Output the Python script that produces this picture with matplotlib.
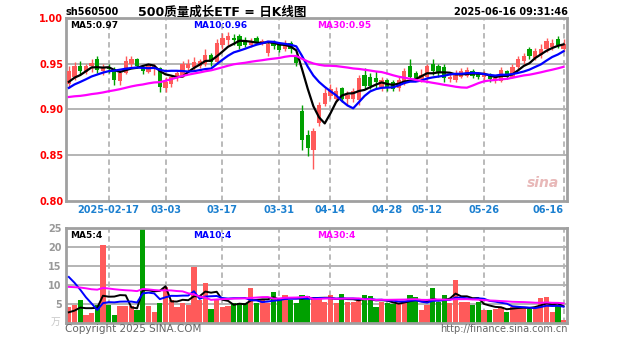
import matplotlib
matplotlib.use("Agg")
import matplotlib.pyplot as plt
import pandas as pd

plt.rcParams['font.family'] = ['DejaVu Sans', 'Noto Sans CJK SC']

# ---------------- data ----------------
dates = [
    '2025-02-06', '2025-02-07', '2025-02-10', '2025-02-11', '2025-02-12', '2025-02-13', '2025-02-14',
    '2025-02-17', '2025-02-18', '2025-02-19', '2025-02-20', '2025-02-21', '2025-02-24', '2025-02-25',
    '2025-02-26', '2025-02-27', '2025-02-28', '2025-03-03', '2025-03-04', '2025-03-05', '2025-03-06',
    '2025-03-07', '2025-03-10', '2025-03-11', '2025-03-12', '2025-03-13', '2025-03-14', '2025-03-17',
    '2025-03-18', '2025-03-19', '2025-03-20', '2025-03-21', '2025-03-24', '2025-03-25', '2025-03-26',
    '2025-03-27', '2025-03-28', '2025-03-31', '2025-04-01', '2025-04-02', '2025-04-03', '2025-04-07',
    '2025-04-08', '2025-04-09', '2025-04-10', '2025-04-11', '2025-04-14', '2025-04-15', '2025-04-16',
    '2025-04-17', '2025-04-18', '2025-04-21', '2025-04-22', '2025-04-23', '2025-04-24', '2025-04-25',
    '2025-04-28', '2025-04-29', '2025-04-30', '2025-05-06', '2025-05-07', '2025-05-08', '2025-05-09',
    '2025-05-12', '2025-05-13', '2025-05-14', '2025-05-15', '2025-05-16', '2025-05-19', '2025-05-20',
    '2025-05-21', '2025-05-22', '2025-05-23', '2025-05-26', '2025-05-27', '2025-05-28', '2025-05-29',
    '2025-05-30', '2025-06-03', '2025-06-04', '2025-06-05', '2025-06-06', '2025-06-09', '2025-06-10',
    '2025-06-11', '2025-06-12', '2025-06-13', '2025-06-16']

opens = [0.928, 0.936, 0.948, 0.941, 0.947, 0.955, 0.942, 0.946, 0.944, 0.931,
         0.940, 0.950, 0.955, 0.946, 0.941, 0.944, 0.945, 0.924, 0.928, 0.934,
         0.938, 0.945, 0.946, 0.948, 0.950, 0.960, 0.952, 0.970, 0.976, 0.978,
         0.980, 0.976, 0.970, 0.978, 0.972, 0.962, 0.973, 0.971, 0.966, 0.973,
         0.958, 0.898, 0.872, 0.856, 0.885, 0.906, 0.915, 0.912, 0.923, 0.912,
         0.912, 0.910, 0.938, 0.935, 0.934, 0.925, 0.932, 0.930, 0.923, 0.930,
         0.948, 0.940, 0.933, 0.935, 0.950, 0.947, 0.946, 0.933, 0.932, 0.936,
         0.937, 0.942, 0.940, 0.936, 0.939, 0.932, 0.931, 0.942, 0.936, 0.946,
         0.953, 0.966, 0.956, 0.960, 0.966, 0.968, 0.977, 0.966]
highs = [0.947, 0.952, 0.953, 0.950, 0.955, 0.958, 0.950, 0.950, 0.946, 0.943,
         0.958, 0.958, 0.956, 0.947, 0.950, 0.950, 0.946, 0.935, 0.938, 0.942,
         0.953, 0.955, 0.957, 0.955, 0.966, 0.962, 0.977, 0.984, 0.985, 0.982,
         0.982, 0.979, 0.978, 0.980, 0.977, 0.975, 0.976, 0.973, 0.976, 0.975,
         0.960, 0.905, 0.878, 0.880, 0.908, 0.924, 0.928, 0.925, 0.925, 0.920,
         0.924, 0.938, 0.945, 0.940, 0.942, 0.935, 0.933, 0.932, 0.935, 0.945,
         0.955, 0.942, 0.944, 0.950, 0.955, 0.950, 0.950, 0.940, 0.943, 0.945,
         0.946, 0.944, 0.941, 0.942, 0.940, 0.937, 0.946, 0.943, 0.950, 0.958,
         0.962, 0.968, 0.967, 0.972, 0.978, 0.977, 0.980, 0.977]
lows = [0.924, 0.932, 0.938, 0.939, 0.941, 0.940, 0.938, 0.940, 0.927, 0.927,
        0.939, 0.945, 0.945, 0.939, 0.940, 0.938, 0.919, 0.919, 0.925, 0.931,
        0.936, 0.942, 0.942, 0.945, 0.947, 0.948, 0.950, 0.966, 0.970, 0.970,
        0.966, 0.968, 0.968, 0.972, 0.970, 0.958, 0.966, 0.963, 0.964, 0.962,
        0.947, 0.856, 0.849, 0.835, 0.882, 0.904, 0.912, 0.908, 0.908, 0.905,
        0.908, 0.905, 0.922, 0.922, 0.924, 0.920, 0.920, 0.920, 0.920, 0.927,
        0.933, 0.931, 0.930, 0.932, 0.938, 0.935, 0.930, 0.930, 0.930, 0.934,
        0.935, 0.934, 0.933, 0.932, 0.930, 0.929, 0.930, 0.933, 0.934, 0.944,
        0.950, 0.955, 0.954, 0.956, 0.963, 0.965, 0.967, 0.964]
closes = [0.942, 0.948, 0.942, 0.947, 0.951, 0.943, 0.946, 0.944, 0.932, 0.940,
          0.953, 0.955, 0.948, 0.942, 0.948, 0.947, 0.925, 0.930, 0.935, 0.940,
          0.950, 0.950, 0.952, 0.953, 0.960, 0.952, 0.973, 0.978, 0.980, 0.976,
          0.969, 0.971, 0.975, 0.974, 0.975, 0.972, 0.969, 0.965, 0.972, 0.966,
          0.951, 0.867, 0.858, 0.876, 0.905, 0.918, 0.922, 0.920, 0.911, 0.916,
          0.920, 0.934, 0.926, 0.926, 0.930, 0.932, 0.925, 0.922, 0.932, 0.942,
          0.936, 0.934, 0.938, 0.948, 0.942, 0.941, 0.934, 0.936, 0.939, 0.942,
          0.943, 0.937, 0.935, 0.938, 0.933, 0.934, 0.943, 0.936, 0.946, 0.955,
          0.958, 0.958, 0.964, 0.966, 0.975, 0.973, 0.970, 0.972]
volumes = [4.2, 4.7, 6.0, 2.0, 2.6, 4.8, 20.5, 4.7, 2.2, 4.5,
           4.5, 4.6, 3.5, 26.0, 4.5, 3.0, 5.3, 9.6, 6.0, 4.3,
           5.3, 4.8, 14.8, 6.0, 10.5, 3.8, 6.0, 4.3, 4.5, 5.3,
           5.3, 5.3, 9.2, 5.3, 6.0, 5.3, 8.1, 6.0, 7.3, 6.0,
           5.3, 7.3, 7.0, 6.9, 6.5, 5.5, 7.3, 5.3, 7.7, 5.6,
           5.4, 5.8, 7.3, 7.0, 4.3, 5.6, 5.3, 5.0, 5.3, 5.8,
           7.3, 6.9, 3.5, 4.7, 9.2, 5.6, 7.3, 5.3, 11.3, 5.6,
           5.6, 4.8, 5.6, 3.5, 3.5, 3.8, 4.3, 3.0, 4.3, 4.3,
           4.3, 3.8, 4.3, 6.5, 6.9, 3.0, 4.8, 0.8]

# earlier sessions (before the visible window), only needed to warm up the moving averages
pre_closes = [0.925, 0.928, 0.922, 0.918, 0.920, 0.915, 0.905, 0.900, 0.903, 0.908,
              0.910, 0.912, 0.915, 0.910, 0.918, 0.915, 0.885, 0.882, 0.888, 0.895,
              0.910, 0.915, 0.918, 0.920, 0.922, 0.925, 0.928, 0.926, 0.930]
pre_volumes = [7, 9, 8, 10, 8, 7, 9, 8, 9, 8, 7, 8, 9, 8, 8, 9, 8, 7, 9, 8,
               20, 24, 22, 19, 22, 2.5, 2.0, 2.8, 2.6]

tick_dates = ['2025-02-17', '2025-03-03', '2025-03-17', '2025-03-31', '2025-04-14',
              '2025-04-28', '2025-05-12', '2025-05-26', '2025-06-16']
tick_labels = ['2025-02-17', '03-03', '03-17', '03-31', '04-14', '04-28', '05-12', '05-26', '06-16']
price_ticks = [0.80, 0.85, 0.90, 0.95, 1.00]
price_grid = [0.85, 0.90, 0.95]
vol_ticks = [5, 10, 15, 20, 25]
vol_grid = [5, 10, 15, 20]

title_code = 'sh560500'
title_main = '500质量成长ETF = 日K线图'
timestamp = '2025-06-16 09:31:46'
price_ma_labels = ['MA5:0.97', 'MA10:0.96', 'MA30:0.95']
vol_ma_labels = ['MA5:4', 'MA10:4', 'MA30:4']
unit_label = '万'

# ---------------- style ----------------
W, H = 627, 342
RED = '#FF5A5A'
GREEN = '#00A000'
MA_COLORS = ['black', '#0000FF', '#FF00FF']
FRAME = '#A0A0A0'
GRID = '#B4B4B4'
DATE_BLUE = '#1C80D0'

fig = plt.figure(figsize=(W / 100, H / 100), dpi=100)
fig.patch.set_facecolor('white')


def fx(px):
    return px / W


def fy(py):
    return 1 - py / H


ax1 = fig.add_axes([fx(66), fy(201), (567 - 66) / W, (201 - 18) / H])
ax2 = fig.add_axes([fx(66), fy(323), (567 - 66) / W, (323 - 228) / H])

n = len(dates)
xs = list(range(n))
pos = {d: i for i, d in enumerate(dates)}
tick_idx = [pos[d] for d in tick_dates]

full_c = pd.Series(pre_closes + closes)
full_v = pd.Series(pre_volumes + volumes)
npre = len(pre_closes)
ma_windows = [5, 10, 30]
price_mas = [full_c.rolling(w).mean().iloc[npre:].values for w in ma_windows]
vol_mas = [full_v.rolling(w).mean().iloc[npre:].values for w in ma_windows]

# ---------------- price panel ----------------
ax = ax1
for g in price_grid:
    ax.axhline(g, color=GRID, lw=1.4, zorder=1)
for t in tick_idx:
    ax.axvline(t, color=GRID, lw=1.3, ls=(0, (3, 2)), zorder=1)

cols = [RED if c >= o else GREEN for o, c in zip(opens, closes)]
ax.vlines(xs, lows, highs, colors=cols, lw=1.0, zorder=2)
bottoms = [min(o, c) for o, c in zip(opens, closes)]
heights = [max(abs(c - o), 0.0008) for o, c in zip(opens, closes)]
ax.bar(xs, heights, bottom=bottoms, width=0.75, color=cols, linewidth=0, zorder=3)

for m, col in zip(price_mas, MA_COLORS):
    ax.plot(xs, m, color=col, lw=1.6, zorder=4)

ax.set_xlim(-0.5, 87.6)
ax.set_ylim(0.80, 1.00)
ax.set_yticks(price_ticks)
ax.set_yticklabels(['%.2f' % v for v in price_ticks])
ax.tick_params(axis='y', colors='red', length=0, labelsize=7, pad=2)
for lab in ax.get_yticklabels():
    lab.set_fontweight('bold')
ax.set_xticks(tick_idx)
ax.set_xticklabels(tick_labels)
ax.tick_params(axis='x', colors=DATE_BLUE, length=0, labelsize=7, pad=3)
xlabs = ax.get_xticklabels()
for lab in xlabs:
    lab.set_fontweight('bold')
xlabs[-1].set_horizontalalignment('right')
for s in ax.spines.values():
    s.set_color(FRAME)
    s.set_linewidth(2)

# sina watermark
ax.text(0.985, 0.06, 'sina', transform=ax.transAxes, ha='right', va='bottom',
        fontsize=10, fontweight='bold', fontstyle='italic', color='#E8B8B8', zorder=1)

# ---------------- volume panel ----------------
ax = ax2
for g in vol_grid:
    ax.axhline(g, color=GRID, lw=1.4, zorder=1)
for t in tick_idx:
    ax.axvline(t, color=GRID, lw=1.3, ls=(0, (3, 2)), zorder=1)
ax.bar(xs, volumes, width=0.92, color=cols, linewidth=0, zorder=2)
for m, col in zip(vol_mas, MA_COLORS):
    ax.plot(xs, m, color=col, lw=1.4, zorder=4)
ax.set_xlim(-0.5, 87.6)
ax.set_ylim(0, 25)
ax.set_yticks(vol_ticks)
ax.set_yticklabels([str(v) for v in vol_ticks])
ax.tick_params(axis='y', colors='#999999', length=0, labelsize=7, pad=3)
for lab in ax.get_yticklabels():
    lab.set_fontweight('bold')
ax.set_xticks([])
for s in ax.spines.values():
    s.set_color(FRAME)
    s.set_linewidth(2)

# ---------------- texts ----------------
fig.text(fx(66), fy(12), title_code, ha='left', va='center', fontsize=7, fontweight='bold', color='black')
fig.text(fx(222), fy(12), title_main, ha='center', va='center', fontsize=9, fontweight='bold', color='black')
fig.text(fx(568), fy(12), timestamp, ha='right', va='center', fontsize=7, fontweight='bold', color='black')

ma_x = [70, 193, 317]
for x, s, col in zip(ma_x, price_ma_labels, MA_COLORS):
    fig.text(fx(x), fy(25), s, ha='left', va='center', fontsize=6.5, fontweight='bold', color=col)
for x, s, col in zip(ma_x, vol_ma_labels, MA_COLORS):
    fig.text(fx(x), fy(236), s, ha='left', va='center', fontsize=6.5, fontweight='bold', color=col)

fig.text(fx(56), fy(322), unit_label, ha='center', va='center', fontsize=7, color='#C8C8C8')
fig.text(fx(65), fy(329), 'Copyright 2025 SINA.COM', ha='left', va='center', fontsize=7.5, color='#666666')
fig.text(fx(568), fy(329), 'http://finance.sina.com.cn', ha='right', va='center', fontsize=7, color='#666666')

fig.savefig('out.png', dpi=100, facecolor='white')
